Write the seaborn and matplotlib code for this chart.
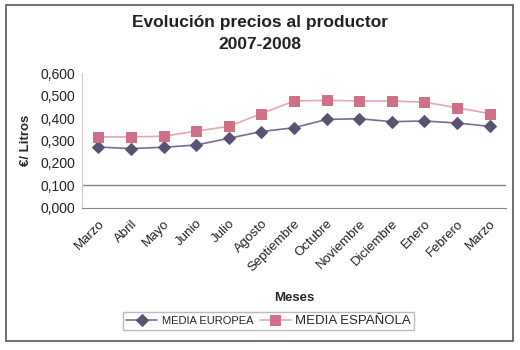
import pandas as pd
import matplotlib
matplotlib.use("Agg")
import matplotlib.pyplot as plt
import matplotlib.ticker as mticker
from matplotlib.patches import Rectangle
import seaborn as sns

# Data
meses = ["Marzo", "Abril", "Mayo", "Junio", "Julio", "Agosto", "Septiembre",
         "Octubre", "Noviembre", "Diciembre", "Enero", "Febrero", "Marzo"]
media_europea = [0.271, 0.264, 0.270, 0.280, 0.310, 0.340, 0.357,
                 0.394, 0.397, 0.384, 0.387, 0.378, 0.363]
media_espanola = [0.316, 0.316, 0.319, 0.342, 0.363, 0.420, 0.476,
                  0.479, 0.476, 0.476, 0.471, 0.446, 0.420]
y_ticks = [0.0, 0.1, 0.2, 0.3, 0.4, 0.5, 0.6]

sns.set_style("white")
plt.rcParams["font.family"] = ["Liberation Sans", "DejaVu Sans"]

pos = list(range(len(meses)))
df_eu = pd.DataFrame({"pos": pos, "precio": media_europea})
df_es = pd.DataFrame({"pos": pos, "precio": media_espanola})

fig = plt.figure(figsize=(5.2, 3.5), dpi=100)
ax = fig.add_axes([0.158, 0.406, 0.815, 0.385])

# outer frame
fig.patches.append(Rectangle((0.012, 0.025), 0.975, 0.96, transform=fig.transFigure,
                             fill=False, edgecolor="#555555", linewidth=1.2))

sns.lineplot(data=df_eu, x="pos", y="precio", ax=ax, color="#756e8c",
             marker="D", markersize=6, markerfacecolor="#5a5273",
             markeredgecolor="#5a5273", linewidth=1.2, label="MEDIA EUROPEA")
sns.lineplot(data=df_es, x="pos", y="precio", ax=ax, color="#e8a6b6",
             marker="s", markersize=7, markerfacecolor="#cf7088",
             markeredgecolor="#cf7088", linewidth=1.2, label="MEDIA ESPAÑOLA")

ax.axhline(0.1, color="#8a8585", linewidth=1.0, zorder=0)

ax.set_xlim(-0.5, len(meses) - 0.5)
ax.set_ylim(0, 0.6)
ax.set_yticks(y_ticks)
ax.yaxis.set_major_formatter(mticker.FuncFormatter(lambda v, p: f"{v:.3f}".replace(".", ",")))
ax.set_xticks(pos)
ax.set_xticklabels(meses, rotation=45, ha="right", rotation_mode="anchor", fontsize=9.5)
ax.set_xticks([p - 0.5 for p in pos] + [len(meses) - 0.5], minor=True)
ax.tick_params(axis="x", which="major", length=0, pad=7)
ax.tick_params(axis="x", which="minor", length=4, color="#999999", direction="out")
ax.tick_params(axis="y", labelsize=10, length=3, color="#999999", pad=2)
ax.tick_params(axis="both", colors="#222222", which="major")

for s in ["top", "right"]:
    ax.spines[s].set_visible(False)
ax.spines["left"].set_color("#cccccc")
ax.spines["bottom"].set_color("#8a8585")

fig.text(0.5, 0.937, "Evolución precios al productor", ha="center", va="center",
         fontsize=12.5, fontweight="bold", color="#222222")
fig.text(0.5, 0.874, "2007-2008", ha="center", va="center",
         fontsize=12.5, fontweight="bold", color="#222222")
ax.set_ylabel("€/ Litros", fontsize=9.5, fontweight="bold", labelpad=6)
ax.set_xlabel("Meses", fontsize=9.5, fontweight="bold", labelpad=13)

leg = ax.legend(loc="upper center", bbox_to_anchor=(0.44, -0.73), ncol=2,
                frameon=True, fancybox=False, edgecolor="#aaaaaa",
                fontsize=8, handlelength=2.8, columnspacing=0.6,
                handletextpad=0.4, borderpad=0.3)
leg.get_texts()[1].set_fontsize(9.5)

fig.savefig("out.png", dpi=100)
